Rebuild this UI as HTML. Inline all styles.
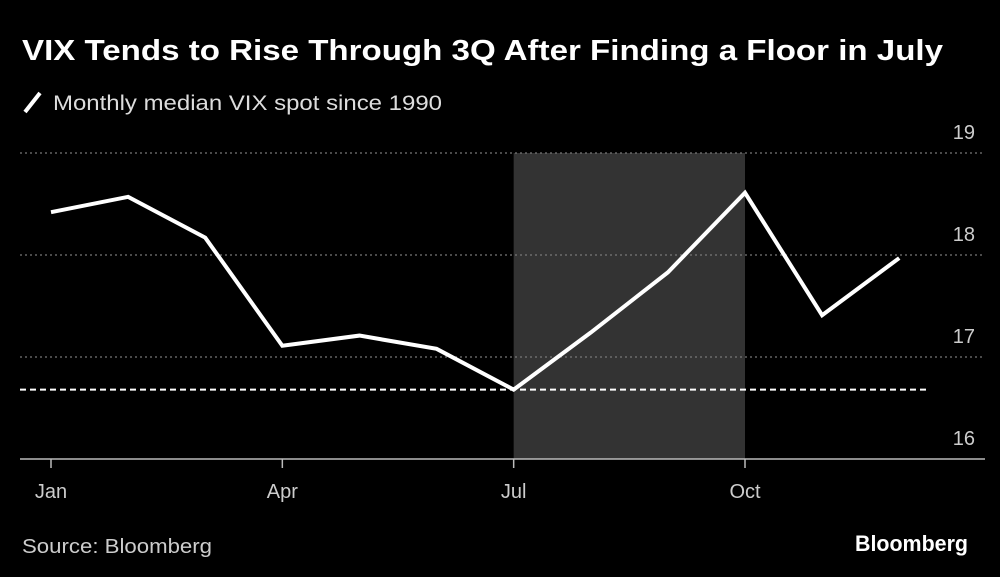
<!DOCTYPE html>
<html><head><meta charset="utf-8"><style>
html,body{margin:0;padding:0;background:#000;width:1000px;height:577px;overflow:hidden}
svg text{font-family:"Liberation Sans",sans-serif}
</style></head><body>
<svg id="chart" width="1000" height="577" xmlns="http://www.w3.org/2000/svg">
<rect width="1000" height="577" fill="#000"/>
<text x="22" y="60" fill="#fff" font-size="29" font-weight="bold" textLength="921" lengthAdjust="spacingAndGlyphs">VIX Tends to Rise Through 3Q After Finding a Floor in July</text>
<line x1="25" y1="112" x2="40" y2="93" stroke="#fff" stroke-width="4"/>
<text x="53" y="110" fill="#ddd" font-size="21" textLength="389" lengthAdjust="spacingAndGlyphs">Monthly median VIX spot since 1990</text>
<g id="plot"></g>
<text x="22" y="553" fill="#ccc" font-size="20" textLength="190" lengthAdjust="spacingAndGlyphs">Source: Bloomberg</text>
<text x="855" y="551" fill="#fff" font-size="22" font-weight="bold" textLength="113" lengthAdjust="spacingAndGlyphs">Bloomberg</text>
</svg>
<script>
const months = ["Jan","Feb","Mar","Apr","May","Jun","Jul","Aug","Sep","Oct","Nov","Dec"];
const vixValues = [18.42,18.57,18.17,17.11,17.21,17.08,16.68,17.24,17.83,18.61,17.41,17.97];
const floorValue = 16.68;
const yTicks = [16,17,18,19];
const xTickLabels = ["Jan","Apr","Jul","Oct"];
const shadeStart = "Jul", shadeEnd = "Oct";

const NS="http://www.w3.org/2000/svg";
const g=document.getElementById('plot');
const x=i=>51+i*(745-51)/9;
const y=v=>459-(v-16)*102;
function mk(t,a){const e=document.createElementNS(NS,t);for(const k in a)e.setAttribute(k,a[k]);g.appendChild(e);return e;}

let r=mk('rect',{x:x(months.indexOf(shadeStart)),y:y(19),width:x(months.indexOf(shadeEnd))-x(months.indexOf(shadeStart)),height:y(16)-y(19),fill:'#333'});



yTicks.forEach(v=>{
  if(v>16){
    const l=mk('line',{x1:20,x2:985,y1:y(v),y2:y(v),stroke:'#777','stroke-width':1.3,'stroke-dasharray':'2 3'});
    
    
  }
  const t=mk('text',{x:975,y:y(v)-14,fill:'#ccc','font-size':20,'text-anchor':'end'});
  t.textContent=v;
  
  
});

const base=mk('line',{x1:20,x2:985,y1:459,y2:459,stroke:'#bbb','stroke-width':1.5});



xTickLabels.forEach(m=>{
  const i=months.indexOf(m);
  const tk=mk('line',{x1:x(i),x2:x(i),y1:459,y2:468,stroke:'#bbb','stroke-width':1.5});
  
  
  const t=mk('text',{x:x(i),y:498,fill:'#ccc','font-size':20,'text-anchor':'middle'});
  t.textContent=m;
  
  
});

const fl=mk('line',{x1:20,x2:930,y1:y(floorValue),y2:y(floorValue),stroke:'#fff','stroke-width':2,'stroke-dasharray':'6 4'});



const p=mk('polyline',{points:vixValues.map((v,i)=>x(i)+','+y(v)).join(' '),fill:'none',stroke:'#fff','stroke-width':4,'stroke-linejoin':'miter'});


</script>
</body></html>
